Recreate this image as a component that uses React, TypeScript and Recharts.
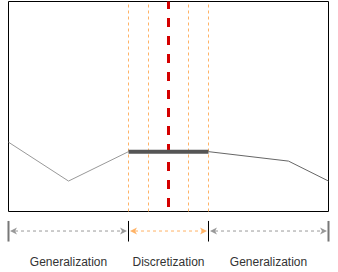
import React from 'react';
import { LineChart, Line, XAxis, YAxis, ReferenceLine, ReferenceArea } from 'recharts';

// x positions of the curve vertices, and the two gray/dark pieces of the curve
const xs = [0, 3, 6, 10, 14, 16];
const leftCurve = [33, 14.5, 28.5, null, null, null];
const rightCurve = [null, null, null, 28.5, 24, 14.5];
const flatSpan = [null, null, 28.5, 28.5, null, null];

// section boundaries along x, the split position and the grid lines inside the middle section
const boundaries = [0, 6, 10, 16];
const splitX = 8;
const innerLines = [6, 7, 9, 10];
const sectionLabels = ['Generalization', 'Discretization', 'Generalization'];
const sectionColors = ['#999999', '#ffb366', '#999999'];

const data = xs.map((x, i) => ({
  x,
  left: leftCurve[i],
  right: rightCurve[i],
  flat: flatSpan[i],
}));

const centers = boundaries.slice(0, -1).map((b, i) => (b + boundaries[i + 1]) / 2);

// annotation rows below the plot, in y units
const ARROW_Y = -9.3;
const BAR_TOP = -4.5;
const BAR_BOTTOM = -14.3;

const arrowShape = (color: string) => (props: any) => {
  const { x1, y1, x2 } = props;
  const a = Math.min(x1, x2) + 1.5;
  const b = Math.max(x1, x2) - 1.5;
  const y = y1;
  return (
    <g>
      <line x1={a + 5} y1={y} x2={b - 5} y2={y} stroke={color} strokeDasharray="3 3" strokeWidth={1} />
      <polygon points={`${a},${y} ${a + 7},${y - 3.5} ${a + 5},${y} ${a + 7},${y + 3.5}`} fill={color} />
      <polygon points={`${b},${y} ${b - 7},${y - 3.5} ${b - 5},${y} ${b - 7},${y + 3.5}`} fill={color} />
    </g>
  );
};

export default function App() {
  return (
    <div style={{ position: 'absolute', left: 0, top: 0, background: '#fff' }}>
      <LineChart
        width={338}
        height={272}
        data={data}
        margin={{ top: 1.5, right: 9.5, left: 8.5, bottom: 0.5 }}
      >
        <XAxis
          type="number"
          dataKey="x"
          domain={[0, 16]}
          ticks={centers}
          interval={0}
          height={60}
          axisLine={false}
          tickLine={false}
          tickMargin={40}
          tick={{ fontSize: 12, fill: '#333', fontFamily: 'Liberation Sans, Arial, sans-serif' }}
          tickFormatter={(_v: number, i: number) => sectionLabels[i]}
        />
        <YAxis type="number" domain={[0, 100]} hide />

        {innerLines.map((x) => (
          <ReferenceLine key={x} x={x} stroke="#ffb366" strokeDasharray="3 3" strokeWidth={1} />
        ))}
        <ReferenceLine
          x={splitX}
          stroke="#d40000"
          strokeWidth={3}
          strokeDasharray="9 9"
          strokeDashoffset={13.5}
        />

        <Line dataKey="left" stroke="#999" strokeWidth={1} dot={false} isAnimationActive={false} />
        <Line dataKey="right" stroke="#666" strokeWidth={1} dot={false} isAnimationActive={false} />
        <Line dataKey="flat" stroke="#555" strokeWidth={4} dot={false} isAnimationActive={false} />

        <ReferenceArea x1={0} x2={16} y1={0} y2={100} fill="none" stroke="#000" strokeWidth={1} />

        {boundaries.map((b, i) => {
          const outer = i === 0 || i === boundaries.length - 1;
          return (
            <ReferenceLine
              key={'bar' + i}
              ifOverflow="visible"
              segment={[
                { x: b, y: BAR_TOP },
                { x: b, y: BAR_BOTTOM },
              ]}
              stroke={outer ? '#777' : '#000'}
              strokeWidth={outer ? 2 : 1}
            />
          );
        })}
        {centers.map((_c, i) => (
          <ReferenceLine
            key={'arrow' + i}
            ifOverflow="visible"
            segment={[
              { x: boundaries[i], y: ARROW_Y },
              { x: boundaries[i + 1], y: ARROW_Y },
            ]}
            shape={arrowShape(sectionColors[i])}
          />
        ))}
      </LineChart>
    </div>
  );
}
